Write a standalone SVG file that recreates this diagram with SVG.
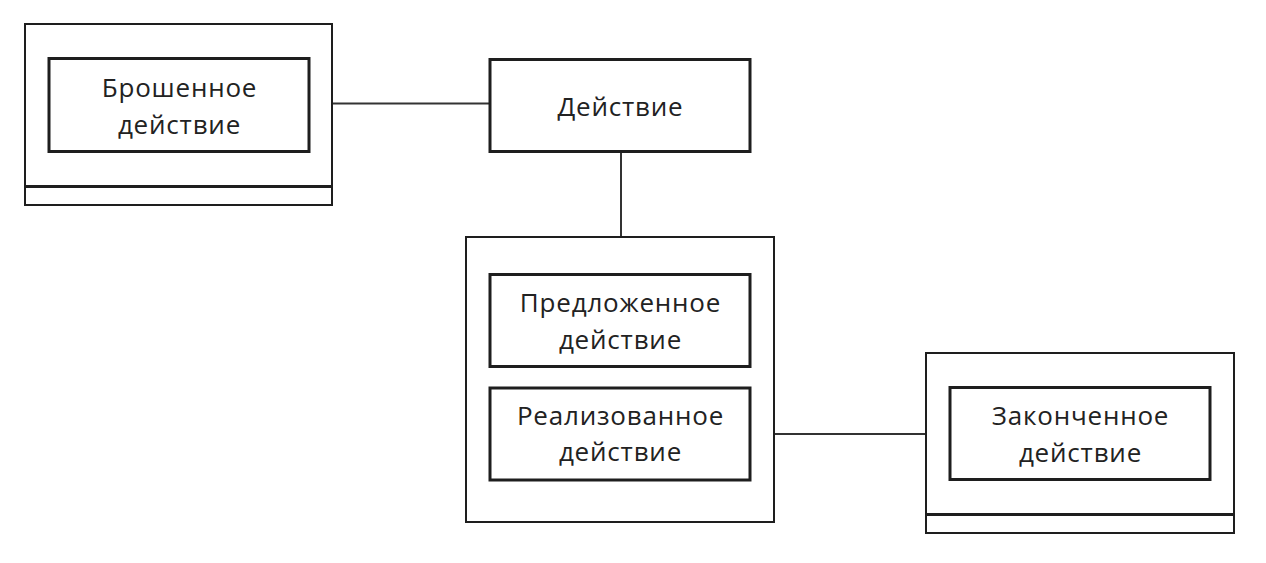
<svg xmlns="http://www.w3.org/2000/svg" width="1266" height="563" viewBox="0 0 1266 563">
<style>
.o{fill:#fff;stroke:#1e1e1e;stroke-width:2}
.i{fill:#fff;stroke:#1e1e1e;stroke-width:3}
.d{stroke:#1e1e1e;stroke-width:3}
.c{fill:none;stroke:#333;stroke-width:2}
text{font-family:"Open Sans","Noto Sans",sans-serif;font-size:26px;letter-spacing:0.8px;fill:#222;text-anchor:middle}
</style>
<rect width="1266" height="563" fill="#fff"/>
<g id="connectors">
<path class="c" d="M332 103.5H490"/>
<path class="c" d="M621 152V237"/>
<path class="c" d="M750 434H926"/>
</g>
<g id="abandoned">
<rect class="o" x="25" y="24" width="307" height="181"/>
<line class="d" x1="25" y1="186.5" x2="332" y2="186.5"/>
<rect class="i" x="49" y="58.5" width="260" height="93"/>
<text x="179.5" y="97">Брошенное</text>
<text x="179.5" y="134">действие</text>
</g>
<g id="action">
<rect class="i" x="490" y="59.5" width="260" height="92"/>
<text x="620.5" y="115.5">Действие</text>
</g>
<g id="container">
<rect class="o" x="466" y="237" width="308" height="285"/>
<g id="proposed">
<rect class="i" x="490" y="274.5" width="260" height="92"/>
<text x="620.5" y="311.5">Предложенное</text>
<text x="620.5" y="348.5">действие</text>
</g>
<g id="realized">
<rect class="i" x="490" y="388" width="260" height="92"/>
<text x="620.5" y="424.5">Реализованное</text>
<text x="620.5" y="461">действие</text>
</g>
</g>
<g id="finished">
<rect class="o" x="926" y="353" width="308" height="180"/>
<line class="d" x1="926" y1="514.5" x2="1234" y2="514.5"/>
<rect class="i" x="950" y="387.5" width="260" height="92"/>
<text x="1080.5" y="424.5">Законченное</text>
<text x="1080.5" y="461.5">действие</text>
</g>
</svg>
